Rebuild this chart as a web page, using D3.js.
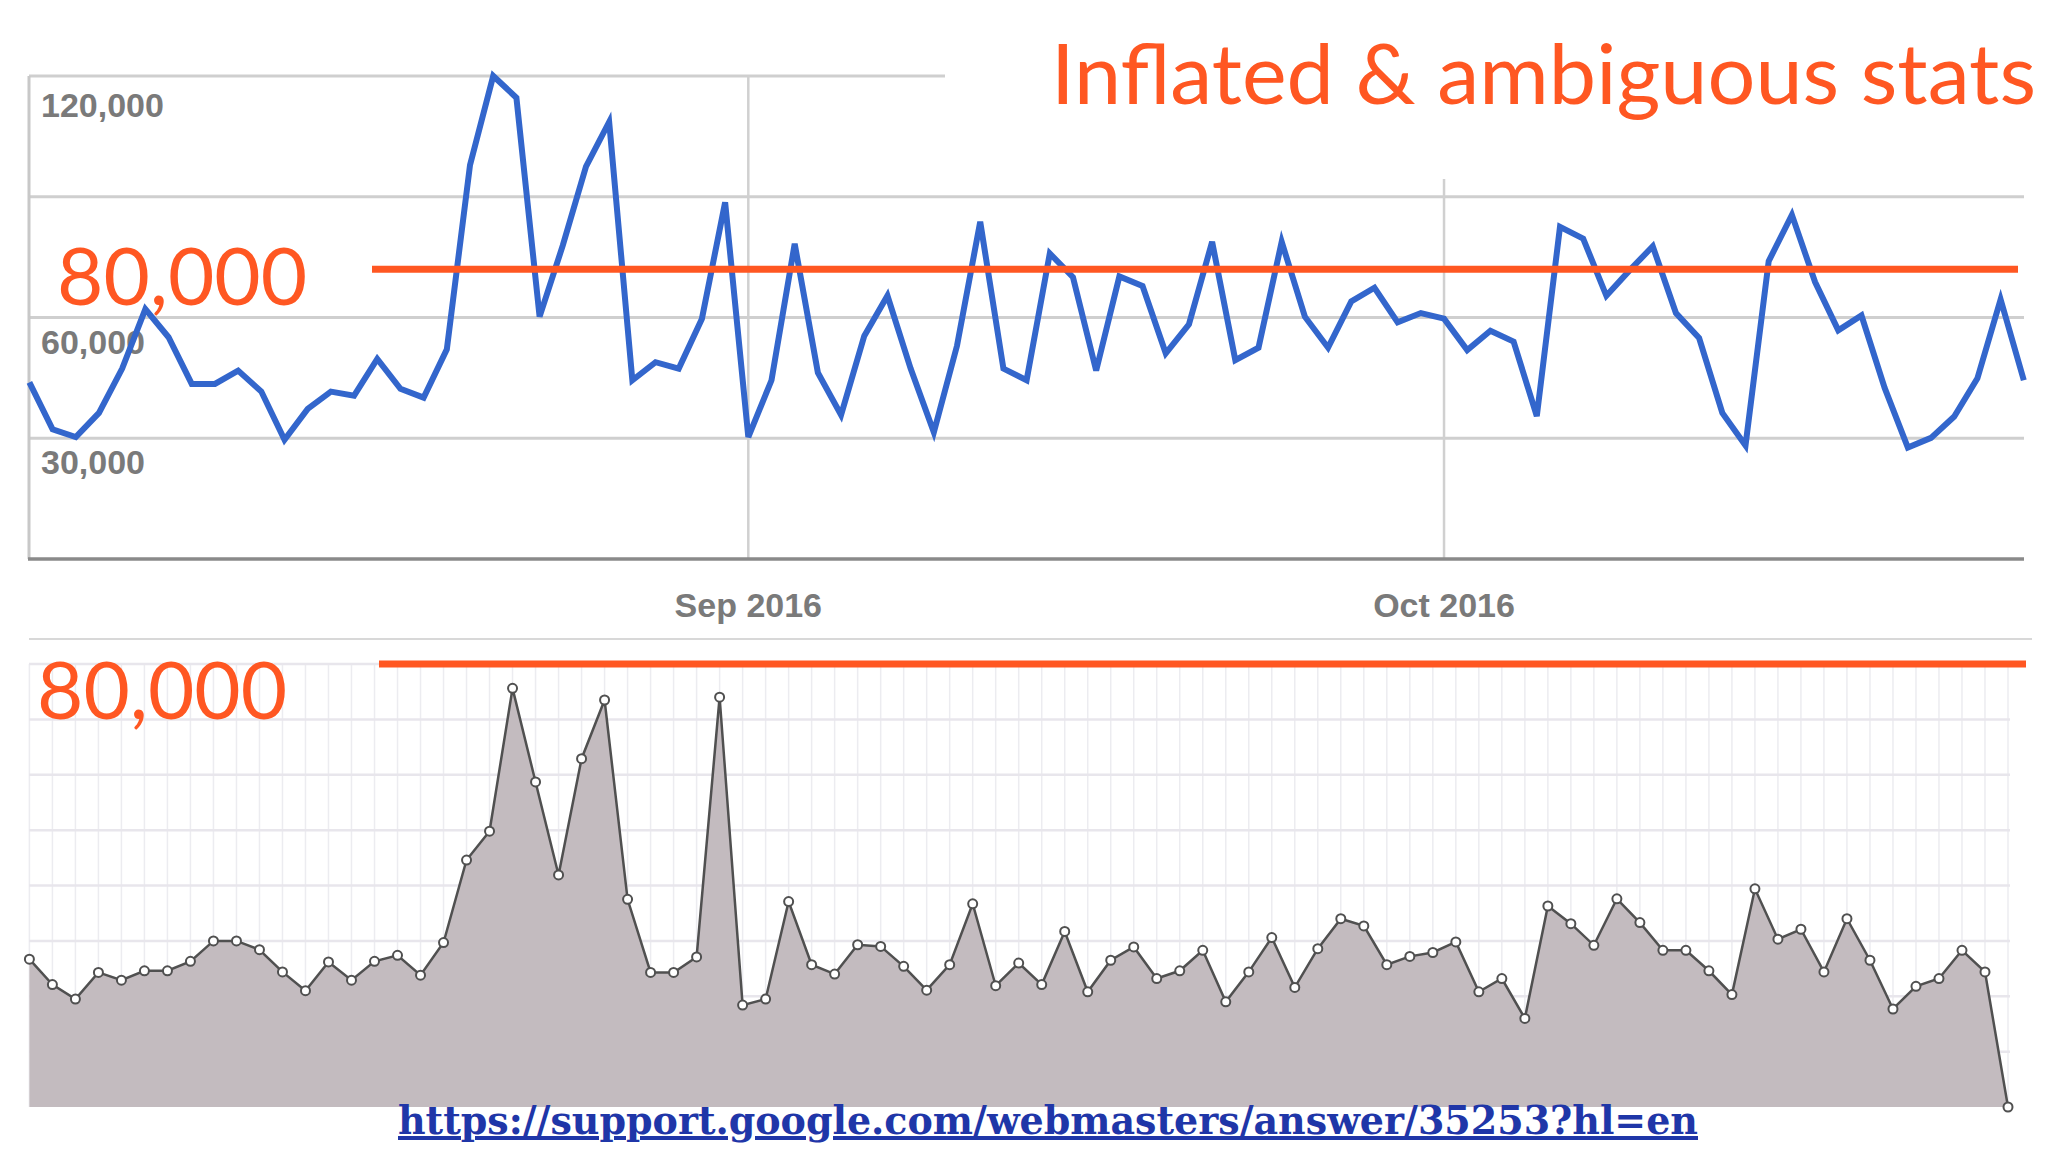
<!DOCTYPE html>
<html><head><meta charset="utf-8">
<script src="https://cdn.jsdelivr.net/npm/d3@7"></script>
<style>body{margin:0;background:#fff}svg{display:block}</style>
</head><body>
<svg id="c" width="2048" height="1152"></svg>
<script>
const startDate = "2016-08-01";
const topValues = [43.9,32.2,30.3,36.3,47.3,62.1,55.1,43.5,43.5,46.8,41.6,29.6,37.3,41.6,40.6,49.7,42.3,40.1,52.1,97.9,120,114.6,60.2,77.9,97.5,108.6,44.4,48.9,47.3,59.7,88.6,30.3,44.4,78.3,46.3,35.8,55.4,65.4,47.3,31.5,53,83.8,47.3,44.4,75.9,70,46.8,70.2,67.8,51.1,58.3,78.8,49.4,52.5,78.8,60.2,52.5,64,67.4,58.8,61.1,59.7,51.9,56.7,54,35.5,82.5,79.6,65.4,71.7,77.7,61.1,54.9,36.3,28.2,74,85.5,68.8,56.8,60.5,42.5,27.7,30.1,35.4,44.9,64.5,44.4].map(v=>v*1000);
const bottomValues = [26.7,22.1,19.5,24.3,22.9,24.6,24.6,26.3,30,30,28.4,24.4,21,26.2,22.9,26.3,27.4,23.8,29.7,44.6,49.8,75.6,58.7,41.9,62.9,73.5,37.5,24.3,24.3,27.1,74,18.4,19.5,37.1,25.7,24,29.3,29,25.4,21.1,25.7,36.7,21.9,26,22.1,31.7,20.8,26.5,28.9,23.2,24.6,28.3,19,24.4,30.6,21.6,28.6,34,32.7,25.7,27.2,27.9,29.8,20.8,23.2,16,36.3,33.1,29.2,37.6,33.3,28.3,28.3,24.6,20.3,39.4,30.3,32.1,24.4,34,26.5,17.7,21.8,23.2,28.3,24.4,0].map(v=>v*1000);
const topTicks = [30000,60000,90000,120000];
const topTickLabels = {30000:"30,000",60000:"60,000",120000:"120,000"};
const monthTicks = ["2016-09-01","2016-10-01"];
const monthLabels = ["Sep 2016","Oct 2016"];
const bottomTicks = [10000,20000,30000,40000,50000,60000,70000,80000];
const refTopValue = 72000, refBottomValue = 80000;
const refLabel = "80,000";
const titleText = "Inflated & ambiguous stats";
const linkText = "https://support.google.com/webmasters/answer/35253?hl=en";

const parse = d3.utcParse("%Y-%m-%d");
const d0 = parse(startDate);
const dates = topValues.map((_,i)=>d3.utcDay.offset(d0,i));
const svg = d3.select("#c");
const orange = "#ff5722";

// ---- top chart
const xT = d3.scaleUtc().domain([dates[0], dates[dates.length-1]]).range([29.4, 2023.8]);
const yT = d3.scaleLinear().domain([0,120000]).range([559,76]);
const gT = svg.append("g");
topTicks.forEach(t=>{
  gT.append("line").attr("x1",29).attr("x2", t===120000?945:2024)
    .attr("y1",yT(t)).attr("y2",yT(t)).attr("stroke","#cfcfcf").attr("stroke-width",3);
});
monthTicks.forEach((m,i)=>{
  const x = xT(parse(m));
  gT.append("line").attr("x1",x).attr("x2",x).attr("y1", i===0?76:179).attr("y2",559)
    .attr("stroke","#d0d0d0").attr("stroke-width",2.5);
  gT.append("text").attr("x",x).attr("y",617).attr("text-anchor","middle")
    .attr("font-family","Liberation Sans, Arial").attr("font-weight","bold").attr("font-size",34)
    .attr("fill","#7a7a7a").text(monthLabels[i]);
});
gT.append("line").attr("x1",29).attr("x2",29).attr("y1",76).attr("y2",559).attr("stroke","#c8c8c8").attr("stroke-width",3);
gT.append("line").attr("x1",28).attr("x2",2024).attr("y1",559).attr("y2",559).attr("stroke","#8a8a8a").attr("stroke-width",3.5);
Object.keys(topTickLabels).forEach(k=>{
  const off = +k===120000 ? 41 : 36;
  gT.append("text").attr("x",41).attr("y",yT(+k)+off)
    .attr("font-family","Liberation Sans, Arial").attr("font-weight","bold").attr("font-size",34)
    .attr("fill","#7a7a7a").text(topTickLabels[k]);
});
gT.append("path").datum(topValues)
  .attr("d", d3.line().x((d,i)=>xT(dates[i])).y(d=>yT(d)))
  .attr("fill","none").attr("stroke","#3366cc").attr("stroke-width",6).attr("stroke-linejoin","miter");
gT.append("line").attr("x1",372).attr("x2",2018).attr("y1",yT(refTopValue)).attr("y2",yT(refTopValue))
  .attr("stroke",orange).attr("stroke-width",7);
gT.append("text").attr("x",57).attr("y",305).attr("font-family","Lato, sans-serif").attr("font-size",80)
  .attr("fill",orange).text(refLabel);

// title
svg.append("text").attr("x",2036).attr("y",104).attr("text-anchor","end")
  .attr("font-family","Lato, sans-serif").attr("font-size",84).attr("fill",orange)
  .attr("textLength",985).attr("lengthAdjust","spacingAndGlyphs").text(titleText);

// separator
svg.append("line").attr("x1",29).attr("x2",2032).attr("y1",639).attr("y2",639).attr("stroke","#d8d8d8").attr("stroke-width",2);

// ---- bottom chart
const xB = d3.scaleUtc().domain([dates[0], dates[dates.length-1]]).range([29.4, 2008]);
const yB = d3.scaleLinear().domain([0,80000]).range([1107,664]);
const gB = svg.append("g");
dates.forEach(d=>{
  gB.append("line").attr("x1",xB(d)).attr("x2",xB(d)).attr("y1",664).attr("y2",1107)
    .attr("stroke","#ececf0").attr("stroke-width",1.5);
});
bottomTicks.forEach(t=>{
  gB.append("line").attr("x1",29).attr("x2",2010).attr("y1",yB(t)).attr("y2",yB(t))
    .attr("stroke","#e8e6ec").attr("stroke-width",2.5);
});
gB.append("path").datum(bottomValues)
  .attr("d", d3.area().x((d,i)=>xB(dates[i])).y0(yB(0)).y1(d=>yB(d)))
  .attr("fill","#c3bbbf");
gB.append("path").datum(bottomValues)
  .attr("d", d3.line().x((d,i)=>xB(dates[i])).y(d=>yB(d)))
  .attr("fill","none").attr("stroke","#505050").attr("stroke-width",2.5);
gB.selectAll("circle").data(bottomValues).join("circle")
  .attr("cx",(d,i)=>xB(dates[i])).attr("cy",d=>yB(d)).attr("r",4.5)
  .attr("fill","#fff").attr("stroke","#505050").attr("stroke-width",2);
gB.append("line").attr("x1",379).attr("x2",2026).attr("y1",yB(refBottomValue)).attr("y2",yB(refBottomValue))
  .attr("stroke",orange).attr("stroke-width",7);
gB.append("text").attr("x",37).attr("y",719).attr("font-family","Lato, sans-serif").attr("font-size",80)
  .attr("fill",orange).text(refLabel);

// link
svg.append("text").attr("x",398).attr("y",1134).attr("font-family","DejaVu Serif, serif")
  .attr("font-weight","bold").attr("font-size",40).attr("fill","#1f36a8")
  .attr("textLength",1300).attr("lengthAdjust","spacingAndGlyphs")
  .attr("text-decoration","underline").text(linkText);
</script>
</body></html>
